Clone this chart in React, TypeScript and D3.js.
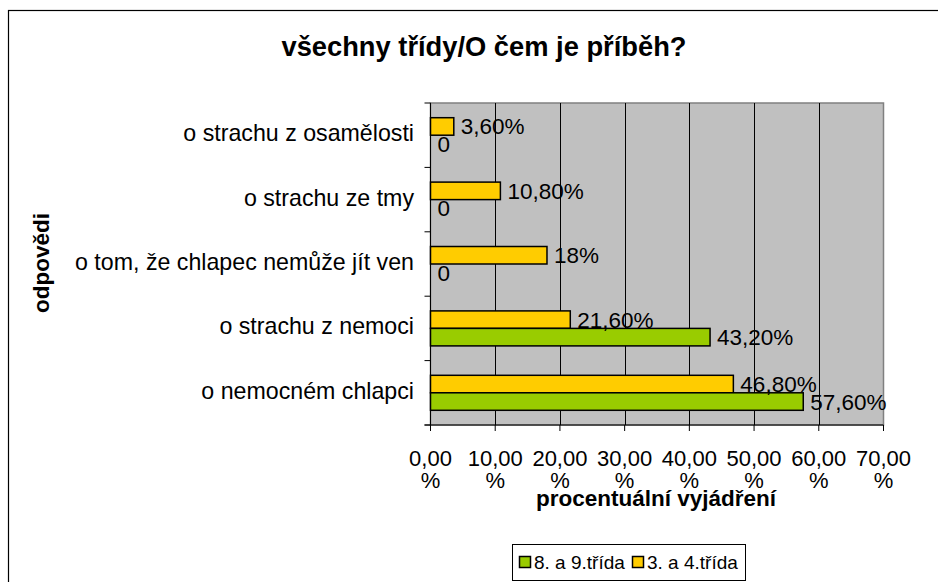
import React from "react";
import * as d3 from "d3";

const categories = [
  "o nemocném chlapci",
  "o strachu z nemoci",
  "o tom, že chlapec nemůže jít ven",
  "o strachu ze tmy",
  "o strachu z osamělosti",
];
const seriesNames = ["8. a 9.třída", "3. a 4.třída"];
const green = [57.6, 43.2, 0, 0, 0];
const yellow = [46.8, 21.6, 18, 10.8, 3.6];
const greenLabels = ["57,60%", "43,20%", "0", "0", "0"];
const yellowLabels = ["46,80%", "21,60%", "18%", "10,80%", "3,60%"];
const xTicks = [0, 10, 20, 30, 40, 50, 60, 70];
const xTickLabels = ["0,00", "10,00", "20,00", "30,00", "40,00", "50,00", "60,00", "70,00"];

const FONT = "'Liberation Sans', Arial, sans-serif";

export default function App() {
  const W = 938, H = 582;
  const left = 430.5, right = 883.5, top = 103, bottom = 425;
  const x = d3.scaleLinear().domain([0, 70]).range([left, right]);
  const y = d3.scaleBand().domain(categories.slice().reverse()).range([top, bottom]);
  const bh = 17.5;
  const colors = ["#99CC00", "#FFCC00"];
  const fs = 22.5;
  return (
    <svg width={W} height={H} style={{ position: "absolute", left: 0, top: 0 }} fontFamily={FONT}>
      <rect x={0} y={0} width={W} height={H} fill="#fff" />
      <rect x={8.5} y={10.5} width={W} height={H} fill="#fff" stroke="#000" strokeWidth={1.2} />
      <text x={484} y={56} textAnchor="middle" fontWeight="bold" fontSize={27.3}>
        všechny třídy/O čem je příběh?
      </text>
      {/* plot area */}
      <rect x={left} y={top} width={right - left} height={bottom - top} fill="#C0C0C0" stroke="#808080" strokeWidth={1.5} />
      {xTicks.slice(1, -1).map((t) => (
        <line key={t} x1={Math.round(x(t)) + 0.5} x2={Math.round(x(t)) + 0.5} y1={top} y2={bottom} stroke="#000" strokeWidth={1} />
      ))}
      {/* bars */}
      {categories.map((c, i) => {
        const y0 = (y(c) as number) + (y.bandwidth() - 2 * bh) / 2;
        return (
          <g key={c}>
            <rect x={x(0)} y={y0} width={x(yellow[i]) - x(0)} height={bh} fill={colors[1]} stroke="#000" strokeWidth={1.5} />
            {green[i] > 0 && (
              <rect x={x(0)} y={y0 + bh} width={x(green[i]) - x(0)} height={bh} fill={colors[0]} stroke="#000" strokeWidth={1.5} />
            )}
            <text x={x(yellow[i]) + 7} y={y0 + bh / 2 + 8} fontSize={fs}>{yellowLabels[i]}</text>
            <text x={x(green[i]) + 7} y={y0 + bh * 1.5 + 8} fontSize={fs}>{greenLabels[i]}</text>
          </g>
        );
      })}
      {/* axes */}
      <line x1={left} x2={left} y1={top} y2={bottom} stroke="#000" strokeWidth={1} />
      <line x1={left - 6} x2={right} y1={bottom} y2={bottom} stroke="#000" strokeWidth={1} />
      {d3.range(categories.length + 1).map((i) => {
        const yy = top + i * y.step();
        return <line key={i} x1={left - 6} x2={left} y1={yy} y2={yy} stroke="#000" />;
      })}
      {xTicks.map((t, i) => (
        <g key={t}>
          <line x1={x(t)} x2={x(t)} y1={bottom} y2={bottom + 6} stroke="#000" />
          <text x={x(t)} y={466} textAnchor="middle" fontSize={22}>{xTickLabels[i]}</text>
          <text x={x(t)} y={488} textAnchor="middle" fontSize={22}>%</text>
        </g>
      ))}
      {categories.map((c) => (
        <text key={c} x={414} y={(y(c) as number) + y.bandwidth() / 2 + 6} textAnchor="end" fontSize={23.2}>{c}</text>
      ))}
      <text x={656} y={506} textAnchor="middle" fontWeight="bold" fontSize={22.5}>procentuální vyjádření</text>
      <text transform="translate(49,263) rotate(-90)" textAnchor="middle" fontWeight="bold" fontSize={22.5}>odpovědi</text>
      {/* legend */}
      <rect x={512.5} y={544.5} width={233} height={36} fill="#fff" stroke="#000" strokeWidth={1} />
      {seriesNames.map((s, i) => {
        const lx = i === 0 ? 519 : 632;
        return (
          <g key={s}>
            <rect x={lx + 0.5} y={556.5} width={11} height={11} fill={colors[i]} stroke="#000" strokeWidth={1.5} />
            <text x={lx + 15} y={569} fontSize={19}>{s}</text>
          </g>
        );
      })}
    </svg>
  );
}
